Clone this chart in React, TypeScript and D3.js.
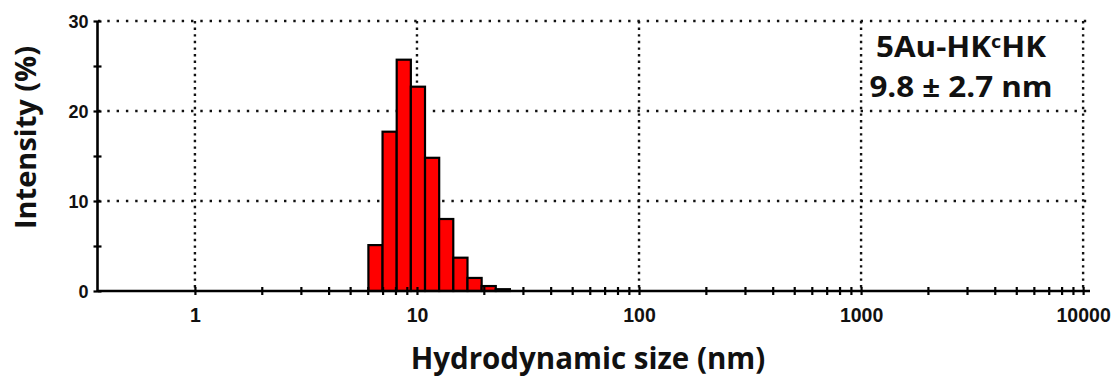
import React, { useEffect, useRef } from "react";
import * as d3 from "d3";

// ---- data ----
const sizeNm = [6.503, 7.531, 8.721, 10.1, 11.7, 13.54, 15.69, 18.17, 21.04, 24.36];
const intensityPct = [5.1, 17.7, 25.7, 22.7, 14.8, 8.0, 3.7, 1.45, 0.55, 0.2];
const BIN_RATIO = 1.1581;
const xMajorTicks = [1, 10, 100, 1000, 10000];
const xMinorMultipliers = [2, 3, 4, 5, 6, 7, 8, 9];
const yMajorTicks = [0, 10, 20, 30];
const yMinorTicks = [5, 15, 25];
const yGridTicks = [10, 20, 30];
const X_DOMAIN: [number, number] = [0.366, 10740];
const Y_DOMAIN: [number, number] = [0, 30];
const sampleName = ["5Au-HK", "c", "HK"];
const sizeText = "9.8 \u00b1 2.7 nm";
const xTitle = "Hydrodynamic size (nm)";
const yTitle = "Intensity (%)";

const W = 1113;
const H = 378;
const L = 98, R = 1090, T = 21, B = 291;
const TITLE_FONT = "'Open Sans', 'Noto Sans', sans-serif";
const TICK_FONT = "'Liberation Sans', Arial, sans-serif";

export default function App() {
  const ref = useRef<SVGSVGElement | null>(null);

  useEffect(() => {
    const svg = d3.select(ref.current);
    svg.selectAll("*").remove();

    const x = d3.scaleLog().domain(X_DOMAIN).range([L, R]);
    const y = d3.scaleLinear().domain(Y_DOMAIN).range([B, T]);

    // grid
    const grid = svg.append("g");
    grid
      .selectAll("line.vg")
      .data(xMajorTicks)
      .join("line")
      .attr("x1", (d) => x(d))
      .attr("x2", (d) => x(d))
      .attr("y1", y(Y_DOMAIN[1]))
      .attr("y2", y(0))
      .attr("stroke", "#111")
      .attr("stroke-width", 2.4)
      .attr("stroke-dasharray", "2.4 4.2");
    grid
      .selectAll("line.hg")
      .data(yGridTicks)
      .join("line")
      .attr("x1", L)
      .attr("x2", R)
      .attr("y1", (d) => y(d))
      .attr("y2", (d) => y(d))
      .attr("stroke", "#111")
      .attr("stroke-width", 2.4)
      .attr("stroke-dasharray", "2.4 6.9");

    // bars
    const bars = sizeNm.map((s, i) => ({ s, v: intensityPct[i] }));
    svg
      .append("g")
      .selectAll("rect")
      .data(bars)
      .join("rect")
      .attr("x", (d) => x(d.s / Math.sqrt(BIN_RATIO)))
      .attr("width", (d) => x(d.s * Math.sqrt(BIN_RATIO)) - x(d.s / Math.sqrt(BIN_RATIO)))
      .attr("y", (d) => y(d.v))
      .attr("height", (d) => y(0) - y(d.v))
      .attr("fill", "#ff0000")
      .attr("stroke", "#000")
      .attr("stroke-width", 2.2);

    // x axis
    const minor = xMajorTicks.slice(0, -1).flatMap((m) => xMinorMultipliers.map((k) => m * k));
    const allX = [...xMajorTicks, ...minor];
    const xAxis = d3
      .axisBottom(x)
      .tickValues(allX)
      .tickSize(4)
      .tickPadding(0)
      .tickFormat((d: any) => (xMajorTicks.includes(+d) ? String(d) : ""));
    const gx = svg.append("g").attr("transform", `translate(0,${B})`).call(xAxis);
    gx.select(".domain").attr("stroke", "#000").attr("stroke-width", 2.6).attr("d", `M${L},0H${R}`);
    gx.selectAll(".tick line").attr("y1", -4).attr("y2", 4).attr("stroke", "#000").attr("stroke-width", 2.2);
    gx.selectAll(".tick text")
      .attr("y", 31)
      .attr("dy", 0)
      .attr("fill", "#111")
      .style("font-family", TICK_FONT)
      .style("font-weight", "bold")
      .style("font-size", "19.5px");

    // y axis
    const yAxis = d3
      .axisLeft(y)
      .tickValues([...yMajorTicks, ...yMinorTicks])
      .tickSize(4)
      .tickPadding(0)
      .tickFormat((d: any) => (yMajorTicks.includes(+d) ? String(d) : ""));
    const gy = svg.append("g").attr("transform", `translate(${L - 0.5},0)`).call(yAxis);
    gy.select(".domain").attr("stroke", "#000").attr("stroke-width", 2.6).attr("d", `M0,${T}V${B}`);
    gy.selectAll(".tick line").attr("x1", -4).attr("x2", 4).attr("stroke", "#000").attr("stroke-width", 2.2);
    gy.selectAll(".tick text")
      .attr("x", -9)
      .attr("dy", "0.36em")
      .attr("fill", "#111")
      .style("font-family", TICK_FONT)
      .style("font-weight", "bold")
      .style("font-size", "18px");

    // titles
    svg
      .append("text")
      .attr("x", 588)
      .attr("y", 369)
      .attr("text-anchor", "middle")
      .style("font-family", TITLE_FONT)
      .style("font-weight", "bold")
      .style("font-size", "29.5px")
      .attr("fill", "#111")
      .text(xTitle);
    svg
      .append("text")
      .attr("transform", `translate(36,137.5) rotate(-90)`)
      .attr("text-anchor", "middle")
      .style("font-family", TITLE_FONT)
      .style("font-weight", "bold")
      .style("font-size", "29px")
      .attr("fill", "#111")
      .text(yTitle);

    // annotation
    const annG = svg.append("g").attr("transform", "translate(961,0) scale(1.1,1)");
    const ann = annG
      .append("text")
      .attr("x", 0)
      .attr("y", 57)
      .attr("text-anchor", "middle")
      .style("font-family", TITLE_FONT)
      .style("font-weight", "bold")
      .style("font-size", "28.5px")
      .attr("fill", "#111");
    ann.append("tspan").text(sampleName[0]);
    ann.append("tspan").attr("dy", -9).style("font-size", "18px").text(sampleName[1]);
    ann.append("tspan").attr("dy", 9).text(sampleName[2]);
    annG
      .append("text")
      .attr("x", 0)
      .attr("y", 97)
      .attr("text-anchor", "middle")
      .style("font-family", TITLE_FONT)
      .style("font-weight", "bold")
      .style("font-size", "28.5px")
      .attr("fill", "#111")
      .text(sizeText);
  }, []);

  return (
    <svg
      ref={ref}
      width={W}
      height={H}
      style={{ position: "absolute", left: 0, top: 0, background: "#fff", display: "block" }}
    />
  );
}
